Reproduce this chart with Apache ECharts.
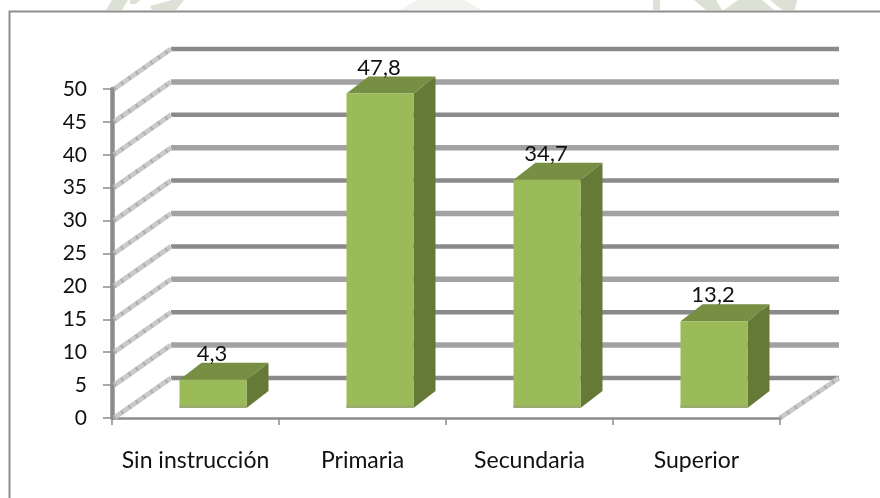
<!DOCTYPE html>
<html><head><meta charset="utf-8">
<style>html,body{margin:0;padding:0;background:#fff}#c{width:880px;height:498px}</style>
<script src="https://cdn.jsdelivr.net/npm/echarts@6/dist/echarts.min.js"></script>
</head><body><div id="c"></div>
<script>
const categories = ['Sin instrucción', 'Primaria', 'Secundaria', 'Superior'];
const values = [4.3, 47.8, 34.7, 13.2];
const gridValues = [0, 5, 10, 15, 20, 25, 30, 35, 40, 45, 50];

const FONT = 'Lato';
const DEPTH_X = 59, DEPTH_Y = -40;
const BAR_W = 67, BAR_DX = 17.5, BAR_DY = -10, SIDE_X = 22, SIDE_Y = -17;

const chart = echarts.init(document.getElementById('c'), null, {renderer: 'canvas'});

function wallItem(params, api) {
  const v = api.value(0);
  const cs = params.coordSys;
  const p = api.coord([0, v]);
  const x0 = cs.x, x1 = cs.x + cs.width, y = p[1];
  const idx = params.dataIndex;
  const dark = idx % 2 === 0;
  const bx = x0 + DEPTH_X, by = y + DEPTH_Y;
  const kids = [];
  kids.push({type: 'line', shape: {x1: bx, y1: by, x2: x1 + DEPTH_X, y2: by},
    style: {stroke: dark ? '#8a8a8a' : '#a2a2a2', lineWidth: dark ? 4.5 : 5.5}});
  if (idx === 0) {
    kids.push({type: 'line', shape: {x1: x1, y1: y, x2: x1 + DEPTH_X, y2: by},
      style: {stroke: '#cacaca', lineWidth: 5}});
    kids.push({type: 'line', shape: {x1: x1, y1: y, x2: x1 + DEPTH_X, y2: by},
      style: {stroke: '#adadad', lineWidth: 4, lineDash: [2, 7]}});
  }
  kids.push({type: 'line', shape: {x1: x0 + 2, y1: y, x2: bx, y2: by},
    style: {stroke: '#cacaca', lineWidth: 5}});
  kids.push({type: 'line', shape: {x1: x0 + 2, y1: y, x2: bx, y2: by},
    style: {stroke: '#adadad', lineWidth: 4, lineDash: [2, 7]}});
  return {type: 'group', children: kids};
}

function barItem(params, api) {
  const i = api.value(0), v = api.value(1);
  const top = api.coord([i, v]), base = api.coord([i, 0]);
  const xl = top[0] + BAR_DX - BAR_W / 2, xr = xl + BAR_W;
  const yt = top[1] + BAR_DY, yb = base[1] + BAR_DY;
  const label = String(v).replace('.', ',');
  return {type: 'group', children: [
    {type: 'polygon', shape: {points: [[xr, yt], [xr + SIDE_X, yt + SIDE_Y], [xr + SIDE_X, yb + SIDE_Y], [xr, yb]]},
      style: {fill: '#667a37'}},
    {type: 'polygon', shape: {points: [[xl, yt], [xl + SIDE_X, yt + SIDE_Y], [xr + SIDE_X, yt + SIDE_Y], [xr, yt]]},
      style: {fill: '#768f42'}},
    {type: 'rect', shape: {x: xl, y: yt, width: BAR_W, height: yb - yt}, style: {fill: '#9bbb59'}},
    {type: 'rect', shape: {x: xl, y: yb - 3, width: BAR_W, height: 3}, style: {fill: '#9aad6c'}},
    {type: 'text', style: {text: label, x: xl + BAR_W / 2 - 1, y: yt - 26, align: 'center', verticalAlign: 'middle',
      font: '22px ' + FONT, fill: '#111'}}
  ]};
}

const wm = '#dde1d5', wmLight = '#f2f3ef';
chart.setOption({
  animation: false,
  backgroundColor: '#fff',
  graphic: [
    {type: 'rect', silent: true, z: 0, shape: {x: 9.5, y: 11.5, width: 880, height: 500},
      style: {fill: '#fff', stroke: '#8e8e8e', lineWidth: 2}},
    {type: 'polygon', silent: true, z: 0, shape: {points: [[112,0],[128,0],[122,10],[106,10]]}, style: {fill: wm}},
    {type: 'polygon', silent: true, z: 0, shape: {points: [[130,0],[140,0],[136,4],[130,4]]}, style: {fill: wm}},
    {type: 'polygon', silent: true, z: 0, shape: {points: [[150,6],[172,0],[184,0],[176,10],[152,10]]}, style: {fill: wm}},
    {type: 'polygon', silent: true, z: 0, shape: {points: [[418,0],[464,0],[482,10],[400,10]]}, style: {fill: wmLight}},
    {type: 'rect', silent: true, z: 0, shape: {x: 653, y: 0, width: 7, height: 10}, style: {fill: wm}},
    {type: 'polygon', silent: true, z: 0, shape: {points: [[694,0],[716,0],[722,10],[706,10]]}, style: {fill: wm}},
    {type: 'polygon', silent: true, z: 0, shape: {points: [[724,10],[738,0],[762,0],[774,10]]}, style: {fill: wm}},
    {type: 'polygon', silent: true, z: 0, shape: {points: [[770,0],[797,0],[795,10],[782,10]]}, style: {fill: wm}}
  ],
  grid: {left: 112, right: 100, top: 89, bottom: 80, containLabel: false},
  xAxis: {
    type: 'category', data: categories, boundaryGap: true,
    axisLine: {show: true, onZero: true, lineStyle: {color: '#8c8c8c', width: 2.5}},
    axisTick: {show: true, alignWithLabel: false, length: 7, lineStyle: {color: '#8c8c8c', width: 1.5}},
    axisLabel: {color: '#111', fontFamily: FONT, fontSize: 23, margin: 31, interval: 0},
    splitLine: {show: false}
  },
  yAxis: {
    type: 'value', min: 0, max: 50, interval: 5,
    axisLine: {show: true, lineStyle: {color: '#8c8c8c', width: 4.5}},
    axisTick: {show: true, length: 9, lineStyle: {color: '#8c8c8c', width: 1.5}},
    axisLabel: {color: '#111', fontFamily: FONT, fontSize: 21, margin: 25},
    splitLine: {show: false}
  },
  series: [
    {type: 'custom', z: 1, coordinateSystem: 'cartesian2d', renderItem: wallItem, silent: true, clip: false,
      encode: {y: 0}, data: gridValues.map(v => [v])},
    {type: 'custom', z: 3, coordinateSystem: 'cartesian2d', renderItem: barItem, silent: true, clip: false,
      encode: {x: 0, y: 1}, data: values.map((v, i) => [i, v])}
  ]
});
</script></body></html>
